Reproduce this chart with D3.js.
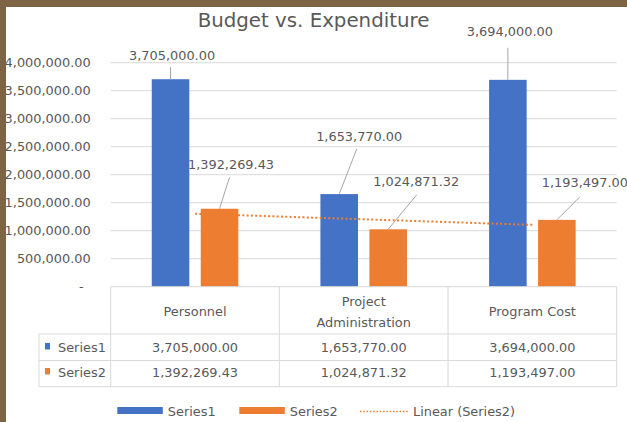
<!DOCTYPE html>
<html>
<head>
<meta charset="utf-8">
<script src="https://cdn.jsdelivr.net/npm/d3@7"></script>
<style>
  html, body { margin: 0; padding: 0; background: #fff; }
  svg { display: block; font-family: "DejaVu Sans", sans-serif; }
</style>
</head>
<body>
<script>

// chart data
const categories = ["Personnel", "Project Administration", "Program Cost"];
const headerLines = [["Personnel"], ["Project", "Administration"], ["Program Cost"]];
const seriesNames = ["Series1", "Series2"];
const series1 = [3705000, 1653770, 3694000];
const series2 = [1392269.43, 1024871.32, 1193497];
const yTickValues = [0, 500000, 1000000, 1500000, 2000000, 2500000, 3000000, 3500000, 4000000];

// label placement (offsets from the bar top centre): t = text, l = leader end
const labelOffsets = [
    [{tx: 1.5, ty: -19, lx: 0, ly: -12}, {tx: 20, ty: -53, lx: 17.5, ly: -45}, {tx: 2, ty: -44, lx: 0, ly: -32}],
    [{tx: 11.5, ty: -39.5, lx: 10, ly: -31.5}, {tx: 28, ty: -43.5, lx: 28.5, ly: -34.5}, {tx: 28, ty: -33, lx: 23, ly: -23}]
];

const width = 627, height = 422;
const colours = ["#4472C4", "#ED7D31"];
const textGrey = "#595959";
const lineGrey = "#d9d9d9";
const fmt = d3.format(",.2f");

const plotLeft = 110.7, plotRight = 616.7;
const plotTop = 62.7, plotBottom = 286.7;
const rowLeft = 39;
const rowLines = [plotBottom, 334, 360.5, 386.7];

const svg = d3.select("body").append("svg")
    .attr("width", width)
    .attr("height", height);

svg.append("rect")
    .attr("width", width).attr("height", height)
    .attr("fill", "#fff");

// scales
const x = d3.scaleBand()
    .domain(categories)
    .range([plotLeft, plotRight]);
const xs = d3.scaleBand()
    .domain(seriesNames)
    .range([0, x.bandwidth()])
    .paddingInner(0.233)
    .paddingOuter(0.838);
const y = d3.scaleLinear()
    .domain([0, 4000000])
    .range([plotBottom, plotTop]);

// gridlines
svg.append("g")
    .selectAll("line")
    .data(yTickValues.filter(d => d > 0))
    .join("line")
    .attr("x1", plotLeft).attr("x2", plotRight)
    .attr("y1", d => y(d)).attr("y2", d => y(d))
    .attr("stroke", lineGrey)
    .attr("stroke-width", 1);

// y axis
const yAxis = svg.append("g")
    .attr("transform", `translate(${plotLeft - 20}, 0)`)
    .call(d3.axisLeft(y)
        .tickValues(yTickValues)
        .tickSize(0)
        .tickFormat(d => d === 0 ? "-" : fmt(d)));
yAxis.select(".domain").remove();
yAxis.selectAll("text")
    .attr("x", 0)
    .attr("dx", d => d === 0 ? -7 : 0)
    .attr("fill", textGrey)
    .style("font-family", "DejaVu Sans")
    .style("font-size", "12.9px");

// bars
const allSeries = [series1, series2];
const bars = svg.append("g");
allSeries.forEach((vals, si) => {
    bars.selectAll(null)
        .data(vals)
        .join("rect")
        .attr("x", (d, i) => x(categories[i]) + xs(seriesNames[si]))
        .attr("y", d => y(d))
        .attr("width", xs.bandwidth())
        .attr("height", d => y(0) - y(d))
        .attr("fill", colours[si]);
});

// linear trend for series2
const n = series2.length;
const xsIdx = d3.range(1, n + 1);
const mx = d3.mean(xsIdx), my = d3.mean(series2);
const slope = d3.sum(xsIdx, (v, i) => (v - mx) * (series2[i] - my)) / d3.sum(xsIdx, v => (v - mx) ** 2);
const icpt = my - slope * mx;
const trend = xsIdx.map((v, i) => ({c: categories[i], v: icpt + slope * v}));
svg.append("path")
    .datum([trend[0], trend[n - 1]])
    .attr("fill", "none")
    .attr("stroke", colours[1])
    .attr("stroke-width", 2)
    .attr("stroke-dasharray", "2,2.3")
    .attr("d", d3.line()
        .x(d => x(d.c) + x.bandwidth() / 2)
        .y(d => y(d.v)));

// data labels with leader lines
const labels = svg.append("g");
allSeries.forEach((vals, si) => {
    vals.forEach((v, i) => {
        const cx = x(categories[i]) + xs(seriesNames[si]) + xs.bandwidth() / 2;
        const top = y(v);
        const o = labelOffsets[si][i];
        labels.append("line")
            .attr("x1", cx).attr("y1", top)
            .attr("x2", cx + o.lx).attr("y2", top + o.ly)
            .attr("stroke", "#a6a6a6")
            .attr("stroke-width", 1);
        labels.append("text")
            .attr("x", cx + o.tx).attr("y", top + o.ty)
            .attr("text-anchor", "middle")
            .attr("fill", textGrey)
            .style("font-size", "12.9px")
            .text(fmt(v));
    });
});

// data table
const table = svg.append("g").attr("stroke", lineGrey).attr("stroke-width", 1);
rowLines.forEach((ry, k) => {
    table.append("line")
        .attr("x1", k === 0 ? plotLeft : rowLeft).attr("x2", plotRight)
        .attr("y1", ry).attr("y2", ry);
});
table.append("line")
    .attr("x1", rowLeft).attr("x2", rowLeft)
    .attr("y1", rowLines[1]).attr("y2", rowLines[3]);
categories.concat([null]).forEach((c, k) => {
    const vx = c === null ? plotRight : x(c);
    table.append("line")
        .attr("x1", vx).attr("x2", vx)
        .attr("y1", rowLines[0]).attr("y2", rowLines[3]);
});

const cells = svg.append("g")
    .attr("fill", textGrey)
    .style("font-size", "12.9px")
    .attr("text-anchor", "middle");
headerLines.forEach((lines, i) => {
    const cx = x(categories[i]) + x.bandwidth() / 2;
    lines.forEach((ln, j) => {
        cells.append("text")
            .attr("x", cx)
            .attr("y", lines.length === 1 ? 316 : 306 + j * 20.5)
            .text(ln);
    });
});
const rowBase = [352, 377];
allSeries.forEach((vals, si) => {
    vals.forEach((v, i) => {
        cells.append("text")
            .attr("x", x(categories[i]) + x.bandwidth() / 2)
            .attr("y", rowBase[si])
            .text(fmt(v));
    });
    svg.append("rect")
        .attr("x", 45).attr("y", rowBase[si] - 9)
        .attr("width", 5).attr("height", 6.5)
        .attr("fill", colours[si]);
    svg.append("text")
        .attr("x", 58)
        .attr("y", rowBase[si])
        .attr("fill", textGrey)
        .style("font-size", "12.9px")
        .text(seriesNames[si]);
});

// legend
const legend = svg.append("g").style("font-size", "12.9px").attr("fill", textGrey);
const legendX = [117.3, 239.3];
seriesNames.forEach((s, si) => {
    legend.append("rect")
        .attr("x", legendX[si]).attr("y", 407)
        .attr("width", 45.5).attr("height", 7)
        .attr("fill", colours[si]);
    legend.append("text")
        .attr("x", legendX[si] + 50.5).attr("y", 415.5)
        .text(s);
});
legend.append("line")
    .attr("x1", 360).attr("x2", 408)
    .attr("y1", 411.5).attr("y2", 411.5)
    .attr("stroke", colours[1])
    .attr("stroke-width", 1.5)
    .attr("stroke-dasharray", "1.5,1.8");
legend.append("text")
    .attr("x", 413).attr("y", 415.5)
    .text("Linear (Series2)");

// title
svg.append("text")
    .attr("x", 313.5).attr("y", 27)
    .attr("text-anchor", "middle")
    .attr("fill", textGrey)
    .style("font-size", "19.8px")
    .text("Budget vs. Expenditure");

// brown frame around the screenshot
svg.append("rect").attr("x", 0).attr("y", 0).attr("width", width).attr("height", 7).attr("fill", "#7d6445");
svg.append("rect").attr("x", 0).attr("y", 0).attr("width", 6).attr("height", height).attr("fill", "#7d6445");

</script>
</body>
</html>
